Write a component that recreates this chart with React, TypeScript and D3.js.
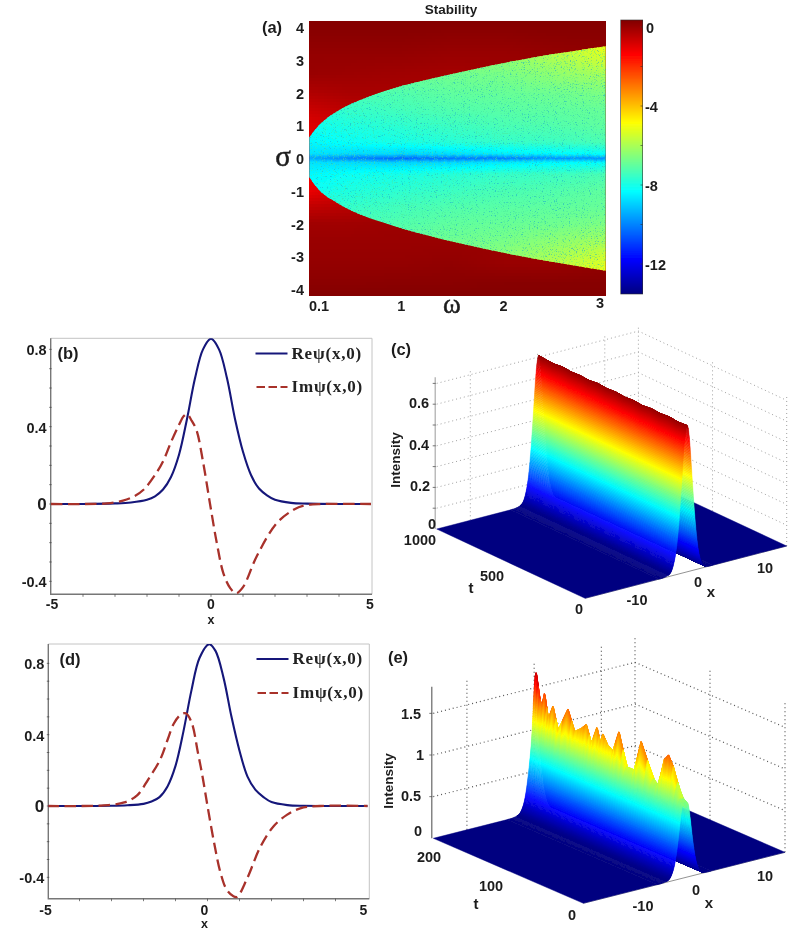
import React, { useMemo } from "react";
import * as d3 from "d3";

// ---------- data ----------
const jetStops = [0, 0.125, 0.375, 0.625, 0.875, 1];
const jetColors = ["#000080", "#0000ff", "#00ffff", "#ffff00", "#ff0000", "#800000"];

const omegaCols = [0.1, 0.5, 1, 1.5, 2, 2.5, 3];
const omegaBoundary = [0.1, 0.2, 0.37, 0.6, 0.92, 1.28, 1.8, 2.32, 3];
const sigmaUpper = [0.64, 1.02, 1.43, 1.78, 2.13, 2.42, 2.78, 3.09, 3.42];
const sigmaLower = [-0.58, -0.98, -1.36, -1.72, -2.06, -2.38, -2.76, -3.08, -3.44];

const stableRows = [0, 0.05, 0.13, 0.5, 1, 1.5, 2, 2.5, 3, 3.45];
const stableValues = [
  [-9.5, -10.0, -10.4, -10.2, -10.1, -9.8, -9.8],
  [-9.2, -9.6, -9.8, -9.6, -9.5, -9.2, -9.2],
  [-8.7, -8.8, -8.9, -8.8, -8.6, -8.4, -8.3],
  [-8.4, -8.2, -8.0, -7.8, -7.6, -7.5, -7.3],
  [-8.2, -7.9, -7.7, -7.5, -7.3, -7.2, -7.0],
  [-7.8, -7.6, -7.4, -7.2, -7.1, -7.0, -6.9],
  [-7.4, -7.3, -7.2, -7.0, -6.9, -6.8, -6.6],
  [-7.0, -7.0, -6.9, -6.8, -6.7, -6.4, -6.1],
  [-6.6, -6.6, -6.5, -6.5, -6.4, -6.0, -5.5],
  [-6.0, -6.0, -6.0, -5.9, -5.9, -5.6, -5.1],
];
const unstableRows = [-4.2, -3.8, -3.2, -2.6, -2, -1.4, -1, -0.5, 0.5, 1, 1.4, 2, 2.6, 3.2, 3.8, 4.2];
const unstableValues = [
  [0.3, 0.3, 0.3, 0.3, 0.3, 0.3, 0.3],
  [0.2, 0.2, 0.22, 0.22, 0.25, 0.25, 0.25],
  [0.08, 0.08, 0.08, 0.12, 0.02, 0.0, 0.12],
  [0.02, 0.02, 0.02, 0.02, 0.02, 0.02, 0.02],
  [-0.08, -0.08, -0.03, -0.03, 0.02, 0.02, 0.02],
  [-0.6, -0.45, -0.2, -0.1, -0.08, 0.02, 0.02],
  [-1.1, -0.7, -0.2, -0.08, -0.08, 0.02, 0.02],
  [-1.15, -0.7, -0.2, -0.08, -0.08, 0.02, 0.02],
  [-1.05, -0.7, -0.2, -0.08, -0.08, 0.02, 0.02],
  [-0.95, -0.65, -0.2, -0.08, -0.08, 0.02, 0.02],
  [-0.7, -0.5, -0.3, -0.13, -0.08, 0.02, 0.02],
  [-0.3, -0.2, -0.2, -0.18, -0.08, 0.02, 0.02],
  [0.02, -0.03, -0.08, -0.13, -0.08, 0.02, 0.02],
  [0.08, 0.08, 0.08, 0.02, 0.02, 0.08, 0.12],
  [0.22, 0.22, 0.22, 0.18, 0.18, 0.22, 0.22],
  [0.3, 0.3, 0.3, 0.3, 0.3, 0.3, 0.3],
];
const sigmaTicks = [4, 3, 2, 1, 0, -1, -2, -3, -4];
const omegaTicks = [0.1, 1, 2, 3];
const barTicks = [0, -4, -8, -12];

const bX = [-5, -4, -3, -2.5, -2, -1.75, -1.5, -1.25, -1, -0.75, -0.5, -0.25, 0, 0.25, 0.5, 0.75, 1, 1.25, 1.5, 1.75, 2, 2.5, 3, 4, 5];
const bRe = [0, 0, 0.003, 0.008, 0.022, 0.04, 0.075, 0.14, 0.255, 0.44, 0.65, 0.8, 0.855, 0.8, 0.65, 0.44, 0.27, 0.15, 0.08, 0.045, 0.022, 0.006, 0.002, 0, 0];
const bImX = [-5, -4, -3.25, -2.75, -2.4, -2.1, -1.75, -1.5, -1.25, -1, -0.85, -0.75, -0.6, -0.45, -0.24, -0.03, 0.18, 0.39, 0.6, 0.78, 1, 1.43, 2.05, 2.58, 2.9, 3.5, 5];
const bIm = [0, 0, 0.003, 0.017, 0.04, 0.075, 0.15, 0.22, 0.32, 0.41, 0.455, 0.465, 0.43, 0.38, 0.21, 0, -0.2, -0.36, -0.435, -0.462, -0.43, -0.27, -0.1, -0.03, -0.008, 0, 0];

const dX = [-5, -4, -3, -2.5, -2, -1.75, -1.5, -1.25, -1, -0.75, -0.5, -0.25, 0.05, 0.25, 0.5, 0.75, 1, 1.25, 1.5, 1.75, 2, 2.5, 3, 4, 5];
const dRe = [0, 0, 0.001, 0.004, 0.012, 0.025, 0.05, 0.11, 0.225, 0.42, 0.65, 0.83, 0.908, 0.87, 0.72, 0.5, 0.31, 0.165, 0.09, 0.05, 0.022, 0.005, 0.001, 0, 0];
const dImX = [-5, -4, -3.25, -2.6, -2.2, -1.85, -1.48, -1.25, -1.06, -0.85, -0.68, -0.5, -0.3, -0.15, 0, 0.2, 0.4, 0.6, 0.8, 0.92, 1.23, 1.65, 2.06, 2.48, 2.9, 3.5, 5];
const dIm = [0, 0, 0.003, 0.02, 0.06, 0.15, 0.26, 0.37, 0.46, 0.51, 0.52, 0.47, 0.3, 0.16, 0, -0.2, -0.37, -0.47, -0.505, -0.51, -0.41, -0.23, -0.115, -0.05, -0.013, 0, 0];
const profileTicks = [0.8, 0.4, 0, -0.4];
const profileEnds = [-5, 0, 5];
const minorTicksY = d3.range(-4, 9).map((d) => d / 10);
const minorTicksX = d3.range(-4, 5);

const shapeX = [-15, -5, -3.5, -3, -2.5, -2.2, -2, -1.75, -1.5, -1.25, -1, -0.75, -0.5, -0.25, 0, 0.25, 0.5, 0.75, 1, 1.25, 1.5, 1.75, 2, 2.3, 2.6, 3, 3.5, 5, 15];
const shapeC = [0, 0, 0, 0.004, 0.012, 0.025, 0.045, 0.085, 0.14, 0.23, 0.36, 0.52, 0.7, 0.88, 0.98, 1, 0.93, 0.76, 0.58, 0.41, 0.27, 0.16, 0.09, 0.04, 0.015, 0.003, 0, 0, 0];
const tC = [0, 60, 120, 180, 240, 300, 360, 420, 480, 540, 600, 660, 720, 780, 840, 900, 960, 1000];
const peakC = [0.712, 0.708, 0.714, 0.709, 0.713, 0.707, 0.712, 0.708, 0.713, 0.709, 0.714, 0.708, 0.712, 0.709, 0.714, 0.708, 0.712, 0.715];
const tE = [0, 5.3, 16.4, 22.2, 27.6, 36.4, 43.1, 58.7, 67.6, 78.7, 88.4, 96.4, 104, 109.8, 113, 117.8, 125.3, 132, 138.7, 147.6, 156.4, 169.8, 176.4, 183, 187.6, 191, 194.2, 198.7, 200];
const peakE = [0.82, 0.92, 1.31, 1.43, 1.35, 0.93, 1.03, 1.45, 1.03, 1.03, 1.45, 1.16, 1.22, 1.33, 1.18, 1.38, 1.13, 1.36, 1.28, 1.2, 1.46, 1.11, 1.41, 1.2, 1.53, 1.35, 1.44, 1.76, 1.7];
const zTicksC = [0.1, 0.2, 0.3, 0.4, 0.5, 0.6, 0.7];
const zTicksE = [0.5, 1, 1.5];
const wallX = [-10, 0, 10, 15];

// ---------- helpers ----------
function makeJet(lo: number, hi: number) {
  return d3
    .scaleLinear<string>()
    .domain(jetStops.map((s) => lo + s * (hi - lo)))
    .range(jetColors)
    .interpolate(d3.interpolateRgb)
    .clamp(true);
}

function interp2(cols: number[], rows: number[], m: number[][], c: number, r: number) {
  const ci = d3.scaleLinear().domain(cols).range(cols.map((_, i) => i)).clamp(true)(c);
  const ri = d3.scaleLinear().domain(rows).range(rows.map((_, i) => i)).clamp(true)(r);
  const c0 = Math.min(Math.floor(ci), cols.length - 2);
  const r0 = Math.min(Math.floor(ri), rows.length - 2);
  const fc = ci - c0;
  const fr = ri - r0;
  return (
    m[r0][c0] * (1 - fc) * (1 - fr) +
    m[r0][c0 + 1] * fc * (1 - fr) +
    m[r0 + 1][c0] * (1 - fc) * fr +
    m[r0 + 1][c0 + 1] * fc * fr
  );
}

const sansBold: React.CSSProperties = { fontFamily: "'Liberation Sans', Arial, sans-serif", fontWeight: 700 };
const ink = "#1c1c1c";

function Label(props: { x: number; y: number; size?: number; anchor?: string; children: React.ReactNode; rotate?: number; serif?: boolean }) {
  const { x, y, size = 14.5, anchor = "middle", children, rotate, serif } = props;
  return (
    <text
      x={x}
      y={y}
      fontSize={size}
      textAnchor={anchor as any}
      fill={ink}
      stroke={serif ? ink : "none"}
      strokeWidth={serif ? 0.5 : 0}
      transform={rotate ? `rotate(${rotate} ${x} ${y})` : undefined}
      style={serif ? { fontFamily: "'Liberation Serif', serif", fontWeight: 400 } : sansBold}
    >
      {children}
    </text>
  );
}

// ---------- panel (a) ----------
function Stability() {
  const box = { l: 309.3, r: 605.7, t: 20.7, b: 295.7 };
  const xS = d3.scaleLinear().domain([0.1, 3]).range([box.l, box.r]);
  const yS = d3.scaleLinear().domain([-4.2, 4.2]).range([box.b, box.t]);
  const barY = d3.scaleLinear().domain([0, -12]).range([27, 264]);
  const barDomain = [barY.invert(294), barY.invert(20)];
  const jet = makeJet(barDomain[0], barDomain[1]);

  const upper = d3.scaleLinear().domain(omegaBoundary).range(sigmaUpper);
  const lower = d3.scaleLinear().domain(omegaBoundary).range(sigmaLower);

  const region =
    d3
      .area<number>()
      .x((_, i) => xS(omegaBoundary[i]))
      .y0((_, i) => yS(sigmaLower[i]))
      .y1((_, i) => yS(sigmaUpper[i]))
      .curve(d3.curveMonotoneX)(omegaBoundary) ?? "";

  const cells = useMemo(() => {
    const out: { x: number; y: number; w: number; h: number; f: string }[] = [];
    for (let px = box.l; px < box.r; px += 3) {
      const om = xS.invert(px + 1.5);
      for (let py = box.t; py < box.b; py += 3) {
        const v = interp2(omegaCols, unstableRows, unstableValues, om, yS.invert(py + 1.5));
        out.push({ x: px, y: py, w: Math.min(3.2, box.r - px), h: Math.min(3.2, box.b - py), f: jet(v) });
      }
    }
    return out;
  }, []);

  const inner = useMemo(() => {
    const out: { x: number; y: number; w: number; h: number; f: string }[] = [];
    for (let px = box.l; px < box.r; px += 3) {
      const om = xS.invert(px + 1.5);
      const u = upper(om) + 0.1;
      const l = lower(om) - 0.1;
      for (let py = yS(u); py < yS(l); py += 1) {
        const s = yS.invert(py + 0.5);
        const v = interp2(omegaCols, stableRows, stableValues, om, Math.abs(s));
        out.push({ x: px, y: py, w: Math.min(3.2, box.r - px), h: 1.2, f: jet(v) });
      }
    }
    return out;
  }, []);

  const barSteps = d3.range(20, 294, 1);

  return (
    <g>
      <defs>
        <clipPath id="stableClip">
          <path d={region} />
        </clipPath>
        <filter id="speckA" x="0" y="0" width="1" height="1" colorInterpolationFilters="sRGB">
          <feTurbulence type="fractalNoise" baseFrequency="0.85" numOctaves="2" seed="4" />
          <feColorMatrix values="0 0 0 0 0.1  0 0 0 0 0.65  0 0 0 0 0.8  9 0 0 0 -5.8" />
        </filter>
        <filter id="speckB" x="0" y="0" width="1" height="1" colorInterpolationFilters="sRGB">
          <feTurbulence type="fractalNoise" baseFrequency="0.9" numOctaves="2" seed="11" />
          <feColorMatrix values="0 0 0 0 0.3  0 0 0 0 0.9  0 0 0 0 0.6  0 9 0 0 -5.4" />
        </filter>
      </defs>
      <g shapeRendering="crispEdges">
        {cells.map((c, i) => (
          <rect key={i} x={c.x} y={c.y} width={c.w} height={c.h} fill={c.f} />
        ))}
      </g>
      <g clipPath="url(#stableClip)">
        <g shapeRendering="crispEdges">
          {inner.map((c, i) => (
            <rect key={i} x={c.x} y={c.y} width={c.w} height={c.h} fill={c.f} />
          ))}
        </g>
        <rect x={box.l} y={box.t} width={box.r - box.l} height={box.b - box.t} filter="url(#speckA)" opacity={0.55} />
        <rect x={box.l} y={box.t} width={box.r - box.l} height={box.b - box.t} filter="url(#speckB)" opacity={0.5} />
      </g>
      <g shapeRendering="crispEdges">
        {barSteps.map((py) => (
          <rect key={py} x={620.7} y={py} width={22} height={1.2} fill={jet(barY.invert(py + 0.5))} />
        ))}
      </g>
      <rect x={620.7} y={20} width={22} height={274} fill="none" stroke="#333" strokeWidth={0.6} />
      {d3.range(0, 7).map((i) => (
        <line key={i} x1={640.5} x2={642.7} y1={barY(-2 * i)} y2={barY(-2 * i)} stroke="#333" strokeWidth={0.6} />
      ))}

      <Label x={451} y={14} size={13.5}>Stability</Label>
      <Label x={272} y={33} size={16.5}>(a)</Label>
      {sigmaTicks.map((s) => (
        <Label key={s} x={304} y={yS(s) + 6} anchor="end">
          {s}
        </Label>
      ))}
      {omegaTicks.map((o) => (
        <Label key={o} x={o === 0.1 ? 319 : o === 3 ? 600 : xS(o)} y={o === 3 ? 308 : 311}>
          {o}
        </Label>
      ))}
      {barTicks.map((b) => (
        <Label key={b} x={b === 0 ? 646 : 645} y={barY(b) + 5.5} anchor="start" size={14.5}>
          {b}
        </Label>
      ))}
      <Label x={283} y={166} size={29} serif>σ</Label>
      <Label x={452} y={313} size={27} serif>ω</Label>
    </g>
  );
}

// ---------- panels (b), (d) ----------
type ProfileProps = {
  tag: string;
  box: { l: number; r: number; t: number; b: number };
  zeroY: number;
  perUnit: number;
  x0: number;
  perX: number;
  xs: number[];
  re: number[];
  imX: number[];
  im: number[];
  legendY: number[];
  legendX: number;
  tagX: number;
  tagY: number;
  labelDx: number;
  tickDy: number;
  xDy: number;
};

function Profile(p: ProfileProps) {
  const xS = d3.scaleLinear().domain([-5, 5]).range([p.x0 - 5 * p.perX, p.x0 + 5 * p.perX]);
  const yS = d3.scaleLinear().domain([0, 1]).range([p.zeroY, p.zeroY - p.perUnit]);
  const lineRe = d3.line<number>().x((_, i) => xS(p.xs[i])).y((d) => yS(d)).curve(d3.curveCatmullRom);
  const lineIm = d3.line<number>().x((_, i) => xS(p.imX[i])).y((d) => yS(d)).curve(d3.curveCatmullRom);
  const clipId = `clip${p.tag}`;
  const navy = "#14187a";
  const brick = "#a8302c";
  const serifBold: React.CSSProperties = { fontFamily: "'Liberation Serif', serif", fontWeight: 700 };
  return (
    <g>
      <clipPath id={clipId}>
        <rect x={p.box.l} y={p.box.t} width={p.box.r - p.box.l + 1} height={p.box.b - p.box.t} />
      </clipPath>
      <path d={`M${p.box.l},${p.box.t}H${p.box.r}V${p.box.b}`} fill="none" stroke="#c4c4c4" strokeWidth={1} />
      <path d={`M${p.box.l},${p.box.t}V${p.box.b}H${p.box.r}`} fill="none" stroke="#777" strokeWidth={1.4} />
      {minorTicksY.map((t) => (
        <line key={t} x1={p.box.l - 1.5} x2={p.box.l + 1} y1={yS(t)} y2={yS(t)} stroke="#444" strokeWidth={0.7} />
      ))}
      {minorTicksX.map((t) => (
        <line key={t} x1={xS(t)} x2={xS(t)} y1={p.box.b} y2={p.box.b + 2.5} stroke="#444" strokeWidth={0.7} />
      ))}
      <g clipPath={`url(#${clipId})`}>
        <path d={lineRe(p.re) ?? ""} fill="none" stroke={navy} strokeWidth={2.1} />
        <path d={lineIm(p.im) ?? ""} fill="none" stroke={brick} strokeWidth={2.3} strokeDasharray="11.5 5.5" />
      </g>
      {profileTicks.map((t) => (
        <Label key={t} x={p.box.l - 4} y={yS(t) + 6} anchor="end" size={t === 0 ? 17 : 14.5}>
          {t}
        </Label>
      ))}
      {profileEnds.map((t) => (
        <Label key={t} x={xS(t) + (t === -5 ? 1 : t === 5 ? -1 : 0) + p.labelDx} y={p.box.b + p.tickDy} size={14}>
          {t}
        </Label>
      ))}
      <Label x={xS(0) + p.labelDx} y={p.box.b + p.xDy} size={12.5}>x</Label>
      <Label x={p.tagX} y={p.tagY} size={16.5}>{`(${p.tag})`}</Label>

      <line x1={p.legendX} x2={p.legendX + 32} y1={p.legendY[0]} y2={p.legendY[0]} stroke={navy} strokeWidth={2.1} />
      <line x1={p.legendX + 1} x2={p.legendX + 32} y1={p.legendY[1]} y2={p.legendY[1]} stroke={brick} strokeWidth={2.2} strokeDasharray="8.5 3.5" />
      <text x={p.legendX + 36} y={p.legendY[0] + 5} fontSize={17} fill="#222" letterSpacing={0.8} style={serifBold}>
        Reψ(x,0)
      </text>
      <text x={p.legendX + 36} y={p.legendY[1] + 5} fontSize={17} fill="#222" letterSpacing={0.8} style={serifBold}>
        Imψ(x,0)
      </text>
    </g>
  );
}

// ---------- panels (c), (e) ----------
type SurfaceProps = {
  front: [number, number];
  right: [number, number];
  left: [number, number];
  tMax: number;
  zPx: number;
  zTop: number;
  zColorMax: number;
  zTicks: number[];
  tList: number[];
  peaks: number[];
  base: number;
  wallT: number[];
  axisColor: string;
  gridColor: string;
  gridDash: string;
  gridWidth: number;
  tSub: number;
};

function Surface(p: SurfaceProps) {
  const xFrac = d3.scaleLinear().domain([-15, 15]).range([0, 1]);
  const tFrac = d3.scaleLinear().domain([0, p.tMax]).range([0, 1]);
  const xv = [p.right[0] - p.front[0], p.right[1] - p.front[1]];
  const tv = [p.left[0] - p.front[0], p.left[1] - p.front[1]];
  const project = (x: number, t: number, z: number): [number, number] => [
    p.front[0] + xFrac(x) * xv[0] + tFrac(t) * tv[0],
    p.front[1] + xFrac(x) * xv[1] + tFrac(t) * tv[1] - z * p.zPx,
  ];
  const jet = makeJet(0, p.zColorMax);
  const shape = d3.scaleLinear().domain(shapeX).range(shapeC);
  const smoothShape = (x: number) => (shape(x - 0.12) + shape(x) + shape(x + 0.12)) / 3;
  const peak = d3.scaleLinear().domain(p.tList).range(p.peaks);

  const polys = useMemo(() => {
    const fineX = [...d3.range(-4, -2.6, 0.1), ...d3.range(-2.6, 3, 0.016), ...d3.range(3, 4.001, 0.1)];
    const xs = [-15, ...fineX, 15].reverse();
    const ts: number[] = [];
    p.tList.forEach((t, i) => {
      if (i === p.tList.length - 1) return;
      const next = p.tList[i + 1];
      for (let k = 0; k < p.tSub; k++) ts.push(t + ((next - t) * k) / p.tSub);
    });
    ts.push(p.tMax);
    ts.reverse();
    const height = (x: number, t: number) => {
      const s = smoothShape(x);
      return p.base * s + (peak(t) - p.base) * Math.pow(s, 10);
    };
    const low = (x: number) => smoothShape(x) < 0.55;
    const out: { d: string; f: string }[] = [];
    for (let i = 0; i < xs.length - 1; i++) {
      const a = xs[i];
      const b = xs[i + 1];
      const simple = low(a) && low(b);
      const tlist = simple ? [p.tMax, 0] : ts;
      const h = (x: number, t: number) => (simple ? p.base * smoothShape(x) : height(x, t));
      for (let j = 0; j < tlist.length - 1; j++) {
        const t0 = tlist[j];
        const t1 = tlist[j + 1];
        const pts = [
          project(a, t0, h(a, t0)),
          project(a, t1, h(a, t1)),
          project(b, t1, h(b, t1)),
          project(b, t0, h(b, t0)),
        ];
        const zMean = (h(a, t0) + h(a, t1) + h(b, t0) + h(b, t1)) / 4;
        out.push({ d: `M${pts.map((q) => q.map((v) => v.toFixed(2)).join(",")).join("L")}Z`, f: jet(zMean) });
      }
    }
    return out;
  }, []);

  const backT = p.tMax;
  return (
    <g>
      {/* walls */}
      <g stroke={p.gridColor} strokeWidth={p.gridWidth} strokeDasharray={p.gridDash} fill="none">
        {p.zTicks.map((z) => {
          const a = project(-15, backT, z);
          const b = project(15, backT, z);
          const c = project(15, 0, z);
          return <path key={z} d={`M${a}L${b}L${c}`} />;
        })}
        {wallX.map((x) => {
          const a = project(x, backT, 0);
          const b = project(x, backT, p.zTop);
          return <line key={x} x1={a[0]} y1={a[1]} x2={b[0]} y2={b[1]} />;
        })}
        {[...p.wallT, 0].map((t) => {
          const a = project(15, t, 0);
          const b = project(15, t, p.zTop);
          return <line key={t} x1={a[0]} y1={a[1]} x2={b[0]} y2={b[1]} />;
        })}
      </g>
      <path d={`M${project(-15, 0, 0)}L${project(15, 0, 0)}`} stroke="#777" strokeWidth={0.8} fill="none" />
      {polys.map((q, i) => (
        <path key={i} d={q.d} fill={q.f} stroke={q.f} strokeWidth={0.45} />
      ))}
      {/* z axis */}
      {(() => {
        const a = project(-15, backT, 0);
        const b = project(-15, backT, p.zTop);
        return <line x1={a[0] - 1.5} y1={a[1]} x2={a[0] - 1.5} y2={b[1]} stroke={p.axisColor} strokeWidth={1.2} />;
      })()}
      {p.zTicks.map((z) => {
        const a = project(-15, backT, z);
        return <line key={z} x1={a[0] - 4} x2={a[0] - 1} y1={a[1]} y2={a[1]} stroke="#555" strokeWidth={0.8} />;
      })}
    </g>
  );
}

export default function App() {
  return (
    <svg width={795} height={931} viewBox="0 0 795 931" style={{ position: "absolute", left: 0, top: 0, background: "#fff" }}>
      <defs>
        <filter id="soft" x="0" y="0" width="1" height="1" filterUnits="objectBoundingBox">
          <feGaussianBlur stdDeviation="0.35" />
        </filter>
      </defs>
      <g filter="url(#soft)">
        <rect x={0} y={0} width={795} height={931} fill="#fff" />
        <Stability />
        <Profile
          tag="b"
          box={{ l: 50.7, r: 372, t: 338.3, b: 594.3 }}
          zeroY={504}
          perUnit={193.3}
          x0={211}
          perX={32}
          xs={bX}
          re={bRe}
          imX={bImX}
          im={bIm}
          legendY={[353.5, 387]}
          legendX={255.5}
          tagX={68}
          tagY={359}
          labelDx={0}
          tickDy={14.7}
          xDy={29.2}
        />
        <Profile
          tag="d"
          box={{ l: 48.3, r: 369.3, t: 644, b: 898.7 }}
          zeroY={806}
          perUnit={178.3}
          x0={207.5}
          perX={32}
          xs={dX}
          re={dRe}
          imX={dImX}
          im={dIm}
          legendY={[659, 693]}
          legendX={256.5}
          tagX={70}
          tagY={665}
          labelDx={-3}
          tickDy={16.3}
          xDy={29.3}
        />

        <Surface
          front={[585, 598.3]}
          right={[786.7, 546]}
          left={[436.7, 529]}
          tMax={1000}
          zPx={208}
          zTop={0.73}
          zColorMax={0.72}
          zTicks={zTicksC}
          tList={tC}
          peaks={peakC}
          base={0.71}
          wallT={[500]}
          axisColor="#aaa"
          gridColor="#a0a0a0"
          gridDash="1 3"
          gridWidth={1}
          tSub={1}
        />
        <Label x={401} y={355} size={16.5}>(c)</Label>
        <Label x={432} y={529}>0</Label>
        <Label x={420} y={491}>0.2</Label>
        <Label x={419} y={450}>0.4</Label>
        <Label x={419} y={408}>0.6</Label>
        <Label x={400} y={460} rotate={-90} size={13.5}>Intensity</Label>
        <Label x={420} y={545}>1000</Label>
        <Label x={492} y={581}>500</Label>
        <Label x={471} y={593} size={15}>t</Label>
        <Label x={579} y={614}>0</Label>
        <Label x={637} y={605}>-10</Label>
        <Label x={698} y={587}>0</Label>
        <Label x={711} y={597} size={15}>x</Label>
        <Label x={765} y={573}>10</Label>

        <Surface
          front={[583.3, 903.3]}
          right={[785, 852.3]}
          left={[433.3, 838.3]}
          tMax={200}
          zPx={83.3}
          zTop={1.82}
          zColorMax={1.76}
          zTicks={zTicksE}
          tList={tE}
          peaks={peakE}
          base={1.08}
          wallT={[100]}
          axisColor="#666"
          gridColor="#555"
          gridDash="1 3"
          gridWidth={1.2}
          tSub={2}
        />
        <Label x={398} y={663} size={16.5}>(e)</Label>
        <Label x={418} y={836}>0</Label>
        <Label x={411} y={801}>0.5</Label>
        <Label x={420} y={760}>1</Label>
        <Label x={411} y={719}>1.5</Label>
        <Label x={393} y={781} rotate={-90} size={13.5}>Intensity</Label>
        <Label x={429} y={862}>200</Label>
        <Label x={491} y={891}>100</Label>
        <Label x={476} y={909} size={15}>t</Label>
        <Label x={572} y={920}>0</Label>
        <Label x={643} y={911}>-10</Label>
        <Label x={696} y={895}>0</Label>
        <Label x={709} y={908} size={15}>x</Label>
        <Label x={765} y={881}>10</Label>
      </g>
    </svg>
  );
}
